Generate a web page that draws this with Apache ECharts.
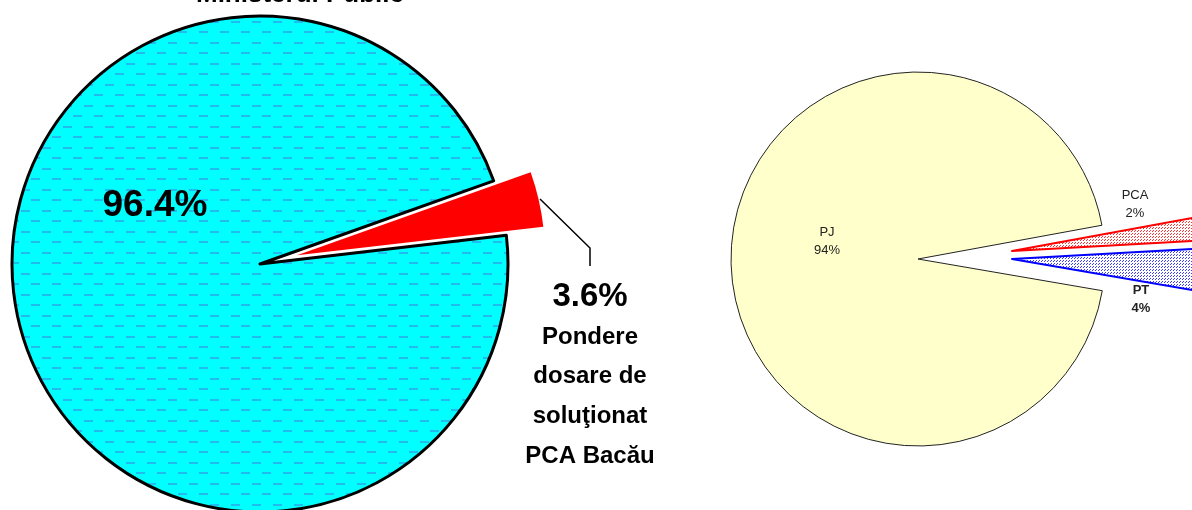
<!DOCTYPE html>
<html>
<head>
<meta charset="utf-8">
<script src="https://cdn.jsdelivr.net/npm/echarts@6/dist/echarts.min.js"></script>
<style>
  html, body { margin: 0; padding: 0; background: #fff; }
  #chart { width: 1192px; height: 510px; }
</style>
</head>
<body>
<div id="chart"></div>
<script>
// left pie: share of files to solve, Ministerul Public vs PCA Bacau
const leftNames = ['PCA Bacău', 'Ministerul Public'];
const leftValues = [3.6, 96.4];
const leftRedLines = ['Pondere', 'dosare de', 'soluţionat', 'PCA Bacău'];
// right pie
const rightNames = ['PCA', 'PT', 'PJ'];
const rightValues = [2.0, 3.6, 94.4];

const FONT = '"Liberation Sans", Arial, sans-serif';
const NONE = { color: 'rgba(0,0,0,0)', borderWidth: 0 };

function makePattern(w, h, draw) {
    const c = document.createElement('canvas');
    c.width = w; c.height = h;
    draw(c.getContext('2d'));
    return { image: c, repeat: 'repeat' };
}

const cyanDash = makePattern(21, 21, function (ctx) {
    ctx.fillStyle = '#00ffff';
    ctx.fillRect(0, 0, 21, 21);
    ctx.fillStyle = '#22bbee';
    ctx.fillRect(0, 0, 9, 2);
    ctx.fillRect(10, 10, 9, 2);
});
function dots(col) {
    return makePattern(3, 3, function (ctx) {
        ctx.fillStyle = '#ffffff';
        ctx.fillRect(0, 0, 3, 3);
        ctx.fillStyle = col;
        ctx.fillRect(0, 0, 1, 1);
        ctx.fillRect(1, 2, 1, 1);
    });
}
const redDots = dots('#ff3030');
const blueDots = dots('#3a3aff');

const chart = echarts.init(document.getElementById('chart'));

const leftData = [
    { name: leftNames[0], value: leftValues[0], selected: true,
      itemStyle: { color: '#ff0000', borderWidth: 0 } },
    { name: leftNames[1], value: leftValues[1],
      itemStyle: { color: cyanDash, borderColor: '#000', borderWidth: 3 } }
];

const rightStyles = [
    { color: redDots, borderColor: '#ff0000', borderWidth: 2 },
    { color: blueDots, borderColor: '#0000ff', borderWidth: 2 },
    { color: '#ffffcc', borderColor: '#222', borderWidth: 1 }
];
// each exploded slice is its own series so it can sit on its own apex
function rightData(show) {
    return rightNames.map(function (n, i) {
        return { name: n, value: rightValues[i], itemStyle: i === show ? rightStyles[i] : NONE };
    });
}
function rightSeries(center, show) {
    return {
        type: 'pie', center: center, radius: 187, startAngle: 10.4, clockwise: true,
        silent: true, emphasis: { disabled: true },
        label: { show: false }, labelLine: { show: false },
        data: rightData(show)
    };
}

function txt(x, y, s, size, bold, color, vAlign) {
    return {
        type: 'text', x: x, y: y, z: 100, silent: true,
        style: {
            text: s, align: 'center', verticalAlign: vAlign || 'middle',
            font: (bold ? 'bold ' : '') + size + 'px ' + FONT, fill: color || '#000'
        }
    };
}

const rightTotal = rightValues.reduce(function (a, b) { return a + b; }, 0);
const pct = function (i) { return Math.round(rightValues[i] / rightTotal * 100) + '%'; };

const labels = [
    txt(300, 8, leftNames[1], 26, true, '#000', 'bottom'),
    txt(155, 206, leftValues[1].toFixed(1) + '%', 37, true),
    txt(590, 297, leftValues[0].toFixed(1) + '%', 33, true)
];
leftRedLines.forEach(function (l, i) { labels.push(txt(590, 337 + i * 39.7, l, 24, true)); });
// right pie labels
labels.push(txt(1135, 195, rightNames[0], 13, false, '#222'), txt(1135, 213, pct(0), 13, false, '#222'));
labels.push(txt(1141, 290, rightNames[1], 13, true, '#222'), txt(1141, 308, pct(1), 13, true, '#222'));
labels.push(txt(827, 232, rightNames[2], 13, false, '#222'), txt(827, 250, pct(2), 13, false, '#222'));

option = {
    animation: false,
    series: [
        {
            type: 'pie',
            center: [260, 264],
            radius: 248,
            startAngle: 19.6,
            clockwise: true,
            selectedMode: 'single',
            selectedOffset: 38,
            emphasis: { disabled: true },
            label: { show: false },
            labelLine: { show: false },
            data: leftData
        },
        rightSeries([918, 259], 2),
        rightSeries([1012, 251], 0),
        rightSeries([1012, 259], 1)
    ],
    graphic: [
        {
            type: 'polyline', z: 100,
            shape: { points: [[540, 199], [590, 248], [590, 266]] },
            style: { stroke: '#000', lineWidth: 1.5, fill: null }
        }
    ].concat(labels)
};
chart.setOption(option);
</script>
</body>
</html>
